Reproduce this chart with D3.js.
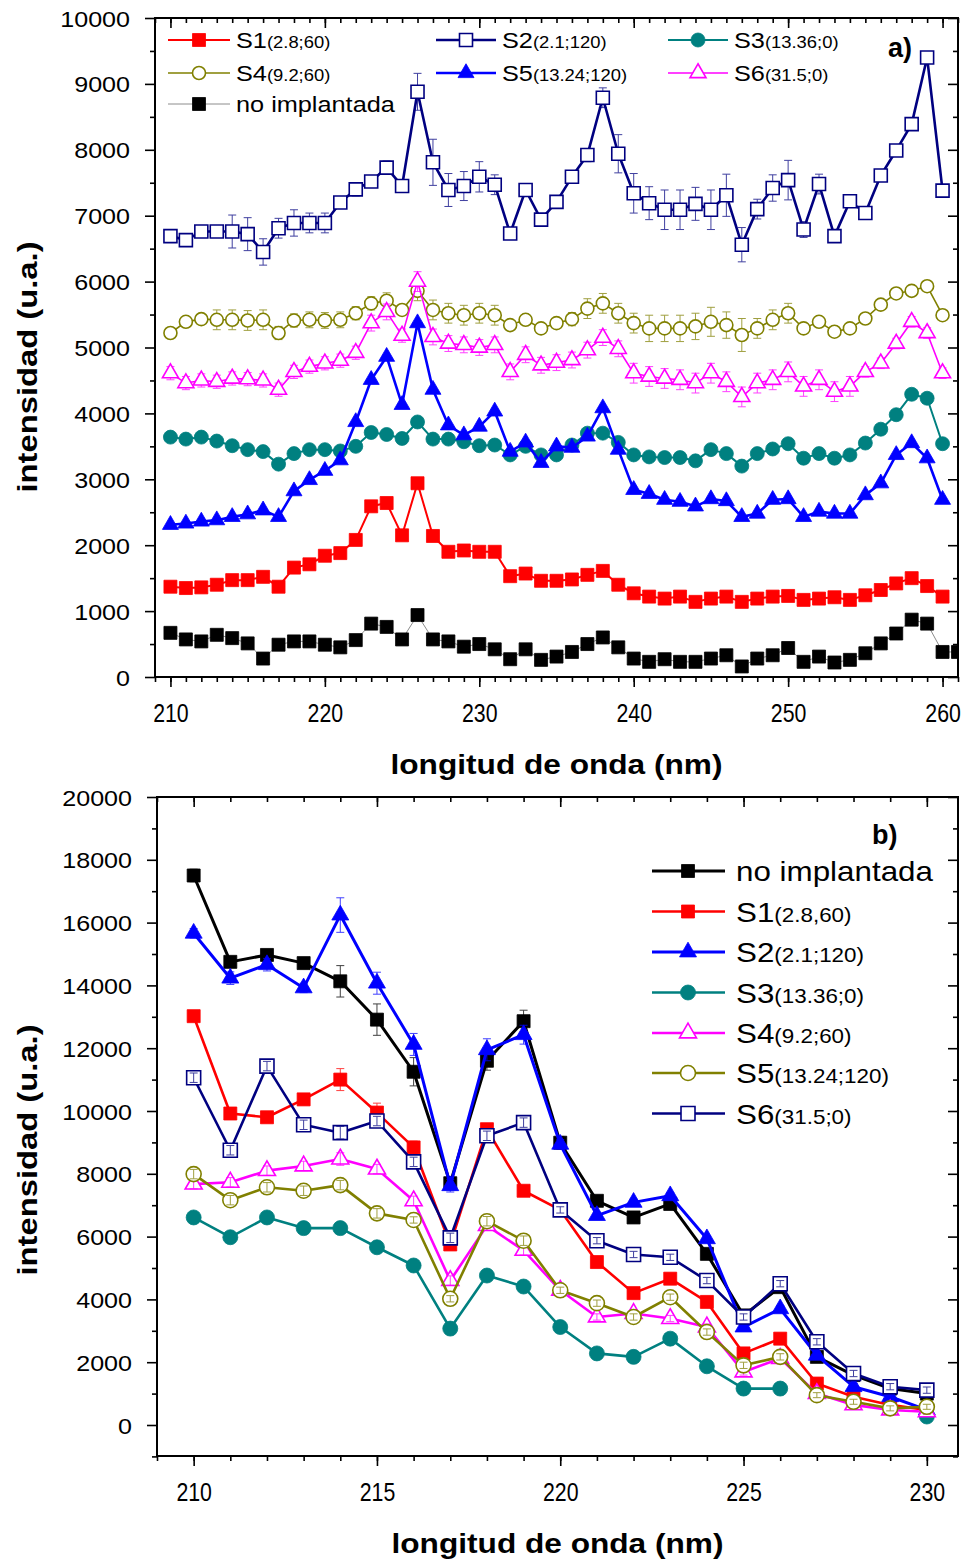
<!DOCTYPE html>
<html>
<head>
<meta charset="utf-8">
<script src="https://cdn.jsdelivr.net/npm/d3@7"></script>
<style>
  body { margin: 0; background: #fff; }
  svg { display: block; }
  text { font-family: "Liberation Sans", Arial, Helvetica, sans-serif; fill: #000; }
</style>
</head>
<body>
<svg id="fig" width="969" height="1560"></svg>
<script>
// ---------- panel a: 210–260 nm (no implantada has one extra point at 261) ----------
const wlA = [210,211,212,213,214,215,216,217,218,219,220,221,222,223,224,225,226,227,228,229,
             230,231,232,233,234,235,236,237,238,239,240,241,242,243,244,245,246,247,248,249,
             250,251,252,253,254,255,256,257,258,259,260,261];

const a_S1 = [1370,1350,1360,1400,1470,1470,1520,1370,1660,1710,1840,1880,2080,2590,2640,2150,2940,2140,1900,1920,
              1900,1900,1530,1570,1460,1460,1480,1550,1610,1400,1270,1220,1190,1220,1140,1190,1220,1140,1190,1220,
              1230,1170,1190,1210,1170,1240,1320,1420,1500,1380,1220];
const a_S2 = [6690,6630,6760,6760,6760,6720,6450,6810,6890,6890,6890,7200,7400,7520,7730,7450,8880,7810,7390,7450,
              7590,7470,6730,7390,6940,7210,7590,7920,8790,7940,7340,7190,7090,7090,7180,7090,7310,6560,7100,7420,
              7540,6790,7480,6690,7220,7040,7610,7990,8390,9400,7380];
const a_S3 = [3640,3610,3640,3580,3510,3450,3420,3230,3390,3450,3450,3430,3500,3710,3680,3620,3870,3610,3610,3570,
              3510,3520,3370,3500,3370,3370,3520,3700,3700,3560,3370,3340,3330,3330,3280,3450,3390,3200,3390,3460,
              3540,3320,3390,3320,3370,3550,3760,3980,4290,4230,3540];
const a_S4 = [5220,5390,5430,5420,5420,5410,5420,5220,5410,5420,5410,5420,5520,5670,5710,5570,5860,5570,5520,5490,
              5520,5490,5340,5420,5290,5370,5430,5590,5670,5520,5370,5290,5290,5290,5320,5390,5340,5190,5290,5420,
              5520,5290,5390,5240,5290,5440,5650,5820,5860,5930,5490];
const a_S5 = [2310,2330,2360,2380,2430,2470,2530,2430,2820,2990,3130,3290,3870,4510,4860,4130,5370,4360,3820,3670,
              3800,4030,3420,3560,3250,3500,3480,3650,4080,3450,2840,2780,2690,2660,2590,2700,2670,2430,2480,2690,
              2700,2430,2510,2480,2480,2760,2940,3370,3550,3320,2690];
const a_S6 = [4610,4460,4500,4480,4530,4520,4500,4360,4630,4710,4760,4800,4920,5370,5540,5180,6000,5160,5060,5040,
              5000,5040,4630,4890,4730,4770,4810,4960,5150,4980,4610,4560,4530,4510,4460,4610,4480,4250,4460,4510,
              4630,4410,4510,4330,4410,4630,4760,5060,5390,5220,4610];
const a_NI = [670,570,540,640,590,510,280,490,540,540,490,450,560,810,760,570,940,570,540,460,
              500,420,270,420,260,310,380,500,600,450,280,230,270,230,230,280,330,160,280,330,
              440,230,310,220,260,360,510,660,870,810,380,380];

// error bars (±) of the noisier panel-a series
const a_S2err = [60,0,0,0,250,250,200,150,200,150,150,60,100,60,100,0,280,350,250,220,
                 230,150,80,0,60,0,0,100,150,290,300,250,300,300,250,300,320,260,150,200,
                 300,120,150,80,0,0,0,0,0,0,0];
const a_S4err = [0,0,60,150,150,150,150,100,100,120,120,120,100,100,120,80,150,150,150,150,
                 150,150,60,60,60,60,100,150,150,150,150,200,200,200,200,220,200,250,150,150,
                 150,80,80,60,60,0,0,0,0,0,0];
const a_S6err = [100,100,100,100,100,100,100,100,100,100,100,100,100,120,120,100,150,120,120,120,
                 120,120,120,120,120,120,120,120,120,120,150,150,150,150,150,150,150,150,150,150,
                 150,150,150,150,150,80,80,80,80,80,80];

// ---------- panel b: 210–230 nm ----------
const wlB = [210,211,212,213,214,215,216,217,218,219,220,221,222,223,224,225,226,227,228,229,230];

const b_NI = [17500,14750,14970,14710,14130,12910,11250,7700,11600,12860,8990,7140,6610,7040,5450,3490,4390,2170,1590,1160,1000];
const b_S1 = [13020,9920,9800,10370,11000,9950,8840,5750,9420,7460,6850,5190,4200,4660,3920,2280,2750,1320,900,640,480];
const b_S2 = [15660,14230,14660,13920,16240,14070,12120,7620,11950,12430,8940,6670,7090,7300,5930,3120,3700,2220,1220,900,480];
const b_S3 = [6610,5980,6610,6270,6270,5660,5080,3070,4760,4410,3120,2280,2170,2750,1870,1160,1160,null,null,null,270];
const b_S4 = [7670,7730,8100,8250,8470,8150,7140,4600,6350,5560,4290,3440,3550,3390,3120,1690,2120,1000,640,480,420];
const b_S5 = [7990,7160,7570,7460,7640,6740,6530,4020,6490,5870,4290,3880,3440,4070,2960,1900,2170,950,740,530,580];
const b_S6 = [11060,8750,11430,9560,9310,9680,8380,5960,9210,9630,6850,5870,5430,5340,4600,3440,4500,2650,1640,1220,1110];

const b_NIerr = [200,150,150,150,500,500,450,200,300,350,200,100,100,100,100,100,100,100,100,100,100];
const b_S1err = [150,100,100,100,350,300,200,150,150,100,100,100,100,100,100,100,100,100,100,100,100];
const b_S2err = [150,200,200,150,550,350,350,200,350,300,150,100,100,100,100,100,100,100,100,100,100];
const b_S4err = [150,150,150,150,200,150,150,150,150,150,100,100,100,100,100,100,100,80,80,80,80];
const b_S5err = [150,150,150,150,150,150,100,100,150,150,100,100,100,100,100,100,100,80,80,80,80];
const b_S6err = [150,150,150,150,200,150,150,150,150,150,100,100,100,100,100,100,100,100,100,100,100];

// tick values
const aXmajor = [210,220,230,240,250,260];
const aYmajor = [0,1000,2000,3000,4000,5000,6000,7000,8000,9000,10000];
const bXmajor = [210,215,220,225,230];
const bYmajor = [0,2000,4000,6000,8000,10000,12000,14000,16000,18000,20000];

// ---------- drawing ----------
const svg = d3.select("#fig");
const FONT = '"Liberation Sans", Arial, Helvetica, sans-serif';

const C = {
  red: "#ff0000", navy: "#000080", teal: "#008080", olive: "#808000",
  blue: "#0000ff", magenta: "#ff00ff", black: "#000000", grey: "#8c8c8c"
};

function symbolPath(m) {
  if (m.shape === "square") return d3.symbol().type(d3.symbolSquare).size(m.s * m.s)();
  if (m.shape === "circle") return d3.symbol().type(d3.symbolCircle).size(Math.PI * m.s * m.s / 4)();
  return d3.symbol().type(d3.symbolTriangle).size(0.433 * m.s * m.s)();
}

function drawMarker(g, x, y, m) {
  g.append("path")
    .attr("d", symbolPath(m))
    .attr("transform", `translate(${x},${y})`)
    .attr("fill", m.open ? "#fff" : m.color)
    .attr("stroke", m.color)
    .attr("stroke-width", m.open ? 1.6 : 0.8);
}

function drawSeries(g, x, y, wl, vals, errs, spec, errOnTop) {
  const data = vals.map((v, i) => ({ x: wl[i], y: v, e: errs ? errs[i] : 0 }));
  const line = d3.line().defined(d => d.y != null).x(d => x(d.x)).y(d => y(d.y));
  g.append("path").datum(data)
    .attr("d", line).attr("fill", "none")
    .attr("stroke", spec.line).attr("stroke-width", spec.lw)
    .attr("stroke-linejoin", "round");
  const pts = data.filter(d => d.y != null);
  const drawErr = () => {
    pts.filter(d => d.e > 0).forEach(d => {
      const cx = x(d.x), y0 = y(d.y - d.e), y1 = y(d.y + d.e);
      const eg = g.append("g").attr("stroke", spec.color).attr("stroke-width", 1).attr("opacity", 0.75);
      eg.append("line").attr("x1", cx).attr("x2", cx).attr("y1", y0).attr("y2", y1);
      eg.append("line").attr("x1", cx - 4).attr("x2", cx + 4).attr("y1", y0).attr("y2", y0);
      eg.append("line").attr("x1", cx - 4).attr("x2", cx + 4).attr("y1", y1).attr("y2", y1);
    });
  };
  if (!errOnTop) drawErr();
  pts.forEach(d => drawMarker(g, x(d.x), y(d.y), spec));
  if (errOnTop) drawErr();
}

// text stretched horizontally around its anchor
function sText(parent, x, y, sx, anchor) {
  return parent.append("text")
    .attr("transform", `translate(${x},${y}) scale(${sx},1)`)
    .attr("text-anchor", anchor || "start");
}

function drawAxes(box, x, y, o) {
  const g = svg.append("g");
  const styleTicks = sel => {
    sel.select(".domain").remove();
    sel.selectAll(".tick line").attr("stroke", "#000").attr("stroke-width", 1.6);
  };
  // bottom: outward
  g.append("g").attr("transform", `translate(0,${box.b})`)
    .call(d3.axisBottom(x).tickValues(o.xMinor).tickSize(5).tickFormat(""))
    .call(styleTicks);
  const bx = g.append("g").attr("transform", `translate(0,${box.b})`)
    .call(d3.axisBottom(x).tickValues(o.xMajor).tickSize(10).tickFormat(d3.format("d")))
    .call(styleTicks);
  bx.selectAll(".tick text")
    .attr("y", 0).attr("dy", 0)
    .attr("transform", `translate(0,${o.xLabelOff}) scale(0.82,1)`)
    .style("font-family", FONT).style("font-size", "26px").attr("fill", "#000");
  // top: inward
  g.append("g").attr("transform", `translate(0,${box.t})`)
    .call(d3.axisBottom(x).tickValues(o.xMinor).tickSize(5).tickFormat(""))
    .call(styleTicks);
  g.append("g").attr("transform", `translate(0,${box.t})`)
    .call(d3.axisBottom(x).tickValues(o.xMajor).tickSize(10).tickFormat(""))
    .call(styleTicks);
  // left: outward
  g.append("g").attr("transform", `translate(${box.l},0)`)
    .call(d3.axisLeft(y).tickValues(o.yMinor).tickSize(5).tickFormat(""))
    .call(styleTicks);
  const ly = g.append("g").attr("transform", `translate(${box.l},0)`)
    .call(d3.axisLeft(y).tickValues(o.yMajor).tickSize(10).tickFormat(d3.format("d")))
    .call(styleTicks);
  ly.selectAll(".tick text")
    .attr("x", 0).attr("dy", 0)
    .attr("transform", `translate(${-o.yLabelOff},8) scale(1.14,1)`)
    .style("font-family", FONT).style("font-size", "22px").attr("fill", "#000");
  // right: inward
  g.append("g").attr("transform", `translate(${box.r},0)`)
    .call(d3.axisLeft(y).tickValues(o.yMinor).tickSize(5).tickFormat(""))
    .call(styleTicks);
  g.append("g").attr("transform", `translate(${box.r},0)`)
    .call(d3.axisLeft(y).tickValues(o.yMajor).tickSize(10).tickFormat(""))
    .call(styleTicks);
  // frame
  g.append("rect")
    .attr("x", box.l).attr("y", box.t)
    .attr("width", box.r - box.l).attr("height", box.b - box.t)
    .attr("fill", "none").attr("stroke", "#000").attr("stroke-width", 2);
  // axis titles
  sText(g, (box.l + box.r) / 2 + 0, o.xTitleY, 1.13, "middle")
    .style("font-size", "28px").style("font-weight", "bold").text("longitud de onda (nm)");
  const yt = g.append("text")
    .attr("transform", `translate(37,${o.yTitleC}) rotate(-90) scale(1.17,1)`)
    .attr("text-anchor", "middle")
    .style("font-size", "28px").style("font-weight", "bold").text("intensidad (u.a.)");
  return g;
}

function legendEntry(g, e, spec, fs, ss, sx) {
  g.append("line").attr("x1", e.x1).attr("x2", e.x2).attr("y1", e.y).attr("y2", e.y)
    .attr("stroke", spec.line).attr("stroke-width", spec.lw);
  drawMarker(g, e.mx, e.y, spec);
  const t = sText(g, e.tx, e.y + e.base, sx, "start");
  t.append("tspan").style("font-size", fs + "px").text(e.label);
  if (e.sub) t.append("tspan").style("font-size", ss + "px").text(e.sub);
}

// ================= panel a =================
const boxA = { l: 155, r: 958, t: 18, b: 677 };
const xA = d3.scaleLinear().domain([209, 261]).range([boxA.l, boxA.r]);
const yA = d3.scaleLinear().domain([0, 10000]).range([boxA.b, boxA.t]);

const specA = {
  S1: { shape: "square", s: 13, color: C.red, line: C.red, lw: 2, open: false },
  S2: { shape: "square", s: 13, color: C.navy, line: C.navy, lw: 2.6, open: true },
  S3: { shape: "circle", s: 14, color: C.teal, line: C.teal, lw: 2, open: false },
  S4: { shape: "circle", s: 13, color: C.olive, line: C.olive, lw: 1.6, open: true },
  S5: { shape: "triangle", s: 16, color: C.blue, line: C.blue, lw: 2.6, open: false },
  S6: { shape: "triangle", s: 16, color: C.magenta, line: C.magenta, lw: 1.6, open: true },
  NI: { shape: "square", s: 13, color: C.black, line: C.grey, lw: 1, open: false }
};

svg.append("clipPath").attr("id", "clipA").append("rect")
  .attr("x", boxA.l).attr("y", boxA.t).attr("width", boxA.r - boxA.l).attr("height", boxA.b - boxA.t);
const plotA = svg.append("g").attr("clip-path", "url(#clipA)");
drawSeries(plotA, xA, yA, wlA, a_S1, null, specA.S1);
drawSeries(plotA, xA, yA, wlA, a_S2, a_S2err, specA.S2);
drawSeries(plotA, xA, yA, wlA, a_S3, null, specA.S3);
drawSeries(plotA, xA, yA, wlA, a_S4, a_S4err, specA.S4);
drawSeries(plotA, xA, yA, wlA, a_S5, null, specA.S5);
drawSeries(plotA, xA, yA, wlA, a_S6, a_S6err, specA.S6);
drawSeries(plotA, xA, yA, wlA, a_NI, null, specA.NI);

drawAxes(boxA, xA, yA, {
  xMajor: aXmajor, xMinor: d3.range(209, 262),
  yMajor: aYmajor, yMinor: d3.range(500, 10000, 1000),
  xLabelOff: 45, yLabelOff: 25, xTitleY: 774, yTitleC: 367
});

const legA = svg.append("g");
const colA = [{ x1: 168, x2: 230, mx: 199, tx: 236 }, { x1: 436, x2: 496, mx: 466, tx: 502 }, { x1: 668, x2: 728, mx: 698, tx: 734 }];
const legItemsA = [
  { key: "S1", label: "S1", sub: "(2.8;60)", c: 0, y: 40 },
  { key: "S2", label: "S2", sub: "(2.1;120)", c: 1, y: 40 },
  { key: "S3", label: "S3", sub: "(13.36;0)", c: 2, y: 40 },
  { key: "S4", label: "S4", sub: "(9.2;60)", c: 0, y: 73 },
  { key: "S5", label: "S5", sub: "(13.24;120)", c: 1, y: 73 },
  { key: "S6", label: "S6", sub: "(31.5;0)", c: 2, y: 73 },
  { key: "NI", label: "no implantada", sub: "", c: 0, y: 104 }
];
legItemsA.forEach(it => legendEntry(legA, Object.assign({}, colA[it.c], it, { base: 8 }), specA[it.key], 22, 16, 1.15));
svg.append("text").attr("x", 888).attr("y", 57)
  .style("font-size", "27px").style("font-weight", "bold").text("a)");

// ================= panel b =================
const boxB = { l: 157, r: 958, t: 797, b: 1456 };
const xB = d3.scaleLinear().domain([209, 230.85]).range([boxB.l, boxB.r]);
const yB = d3.scaleLinear().domain([-1000, 20000]).range([1456.4, 797]);

const specB = {
  NI: { shape: "square", s: 13, color: C.black, line: C.black, lw: 3, open: false },
  S1: { shape: "square", s: 13, color: C.red, line: C.red, lw: 2.6, open: false },
  S2: { shape: "triangle", s: 17, color: C.blue, line: C.blue, lw: 3, open: false },
  S3: { shape: "circle", s: 15, color: C.teal, line: C.teal, lw: 2.6, open: false },
  S4: { shape: "triangle", s: 17, color: C.magenta, line: C.magenta, lw: 2.6, open: true },
  S5: { shape: "circle", s: 15, color: C.olive, line: C.olive, lw: 2.6, open: true },
  S6: { shape: "square", s: 14, color: C.navy, line: C.navy, lw: 2.6, open: true }
};

svg.append("clipPath").attr("id", "clipB").append("rect")
  .attr("x", boxB.l).attr("y", boxB.t).attr("width", boxB.r - boxB.l).attr("height", boxB.b - boxB.t);
const plotB = svg.append("g").attr("clip-path", "url(#clipB)");
drawSeries(plotB, xB, yB, wlB, b_NI, b_NIerr, specB.NI, true);
drawSeries(plotB, xB, yB, wlB, b_S1, b_S1err, specB.S1, true);
drawSeries(plotB, xB, yB, wlB, b_S2, b_S2err, specB.S2, true);
drawSeries(plotB, xB, yB, wlB, b_S3, null, specB.S3, true);
drawSeries(plotB, xB, yB, wlB, b_S4, b_S4err, specB.S4, true);
drawSeries(plotB, xB, yB, wlB, b_S5, b_S5err, specB.S5, true);
drawSeries(plotB, xB, yB, wlB, b_S6, b_S6err, specB.S6, true);

drawAxes(boxB, xB, yB, {
  xMajor: bXmajor, xMinor: d3.range(209, 231),
  yMajor: bYmajor, yMinor: d3.range(-1000, 20000, 2000),
  xLabelOff: 45, yLabelOff: 25, xTitleY: 1553, yTitleC: 1150
});

const legB = svg.append("g");
const legItemsB = [
  { key: "NI", label: "no implantada", sub: "", y: 871 },
  { key: "S1", label: "S1", sub: "(2.8,60)", y: 911.5 },
  { key: "S2", label: "S2", sub: "(2.1;120)", y: 952 },
  { key: "S3", label: "S3", sub: "(13.36;0)", y: 992.5 },
  { key: "S4", label: "S4", sub: "(9.2;60)", y: 1033 },
  { key: "S5", label: "S5", sub: "(13.24;120)", y: 1073 },
  { key: "S6", label: "S6", sub: "(31.5;0)", y: 1113.5 }
];
legItemsB.forEach(it => legendEntry(legB, Object.assign({ x1: 652, x2: 725, mx: 688, tx: 736, base: 10 }, it), specB[it.key], 28, 20, 1.12));
svg.append("text").attr("x", 872).attr("y", 844)
  .style("font-size", "27px").style("font-weight", "bold").text("b)");
</script>
</body>
</html>
